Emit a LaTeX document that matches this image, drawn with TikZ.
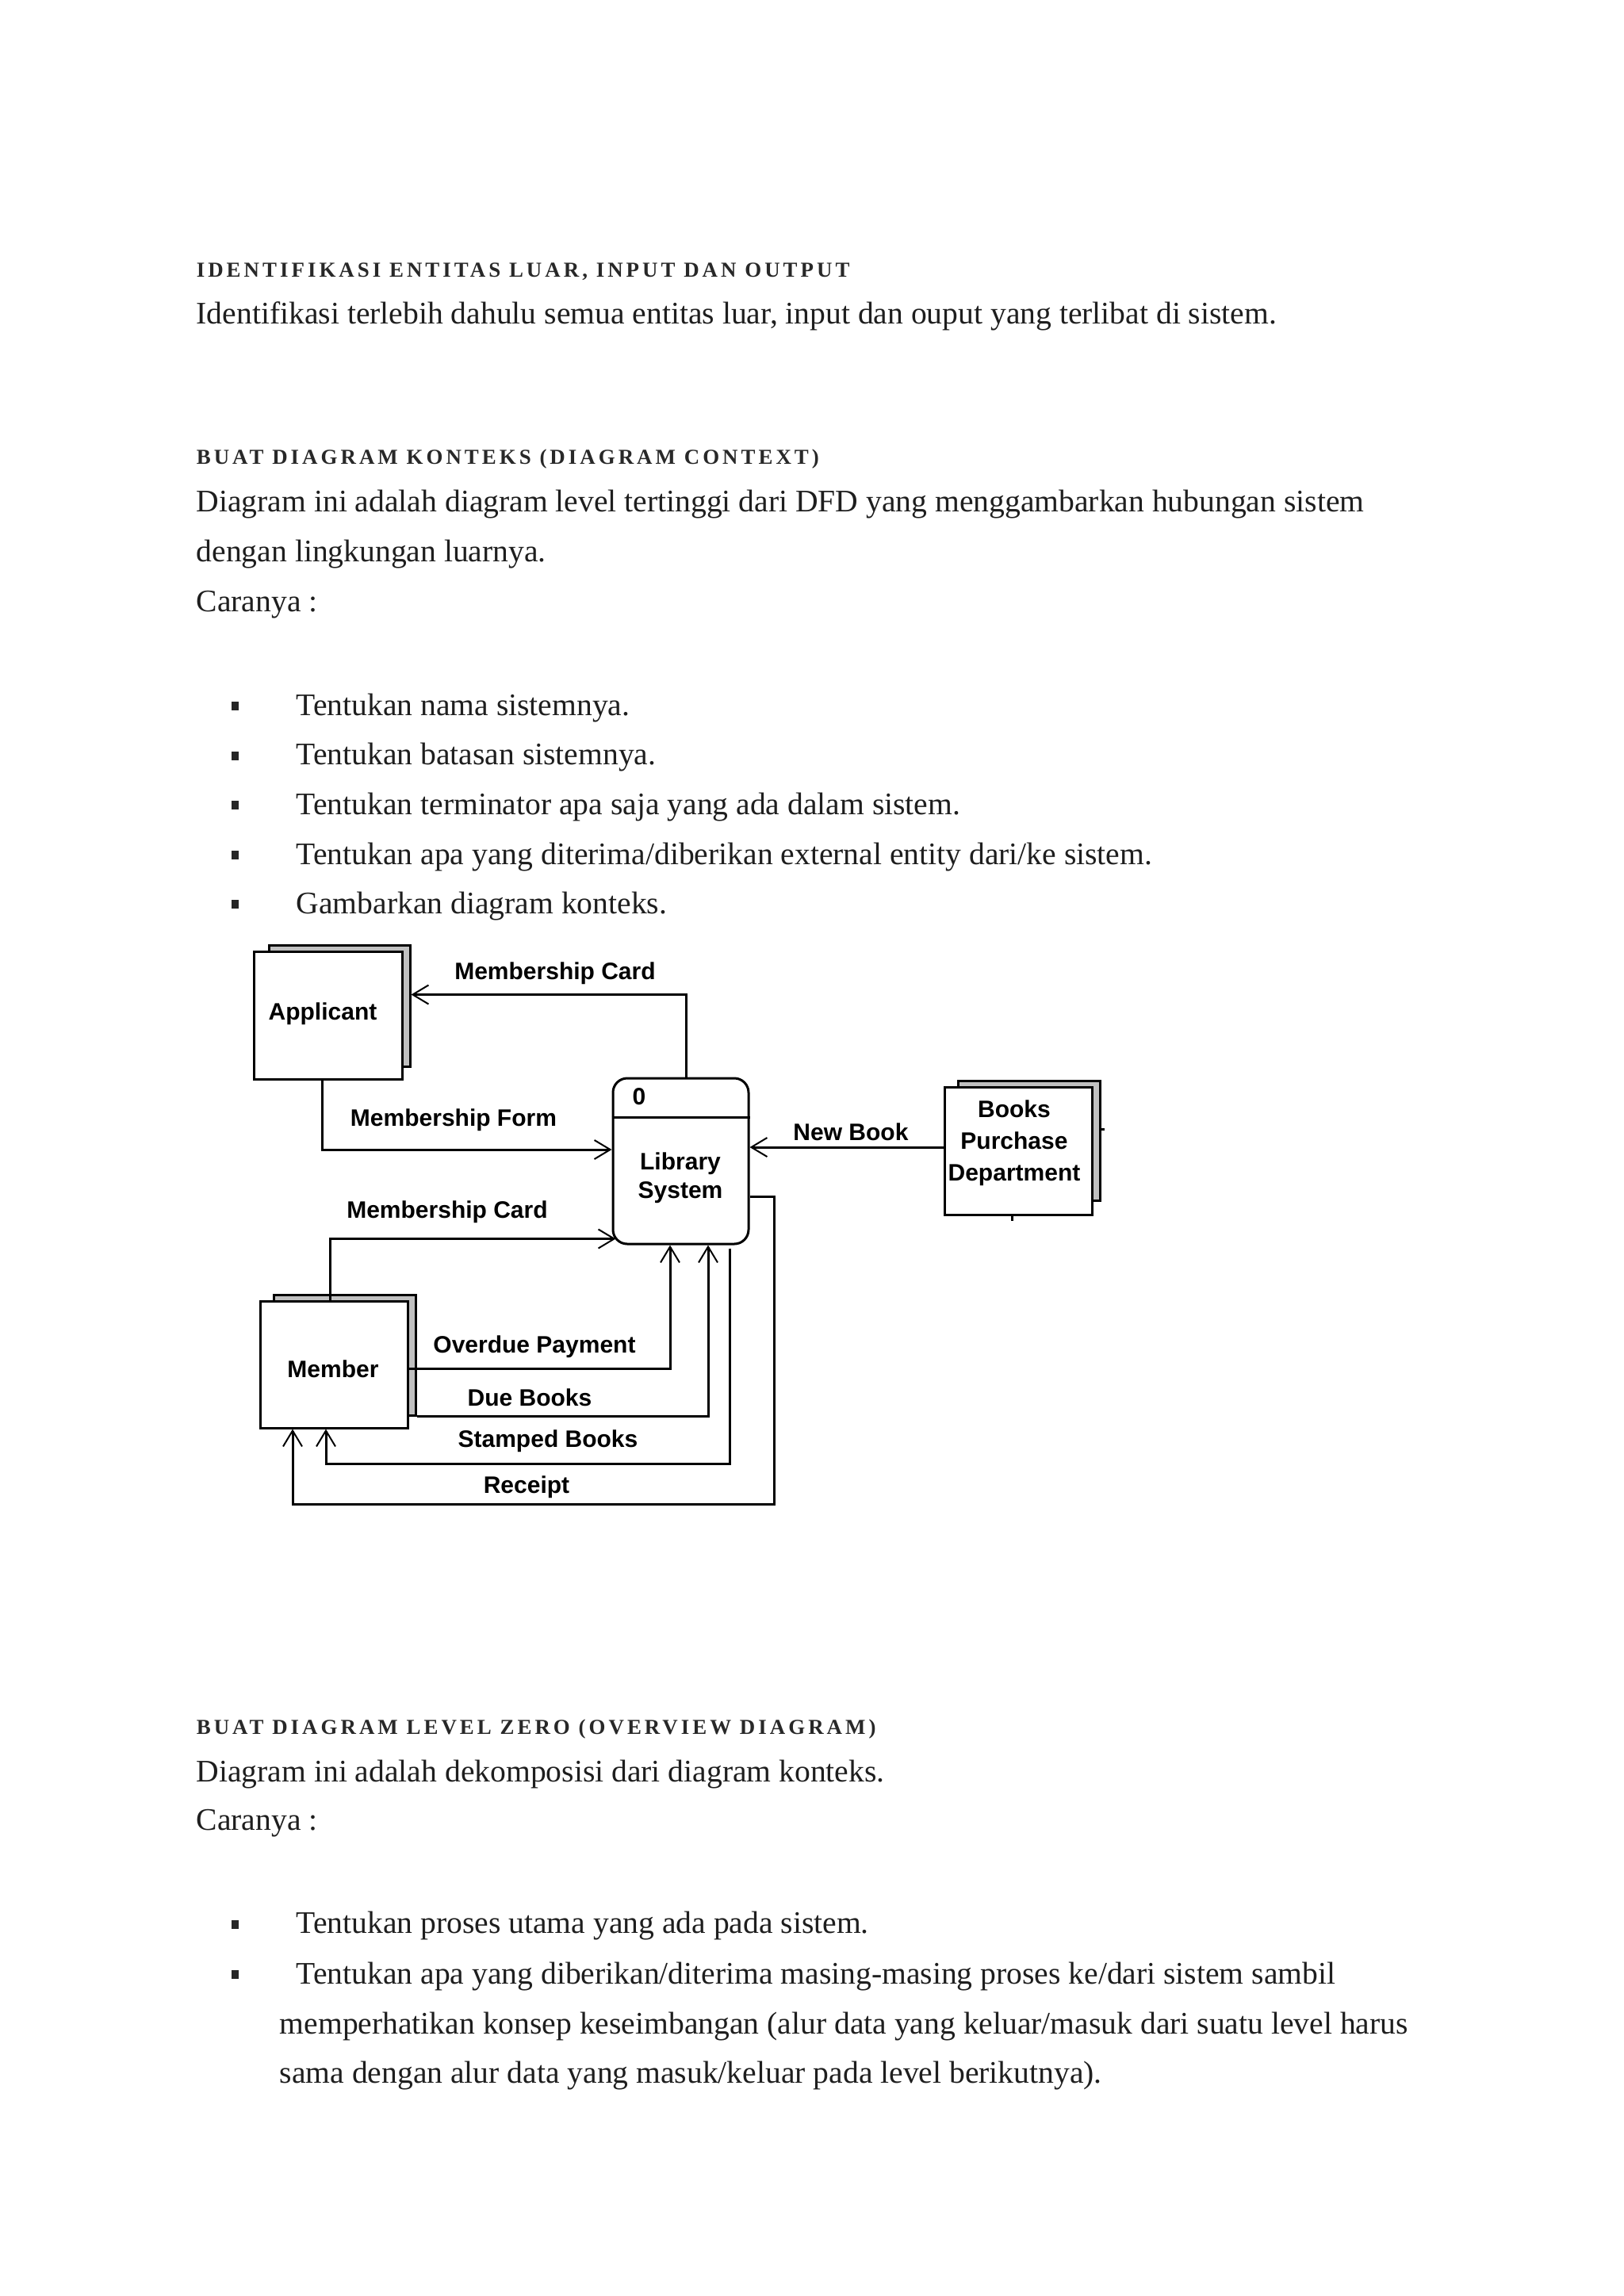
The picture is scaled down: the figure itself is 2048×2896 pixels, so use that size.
\documentclass[tikz,border=0pt]{standalone}
\usepackage{fontspec}
\setmainfont{Liberation Serif}
\newfontfamily\headfont{Liberation Serif}[LetterSpace=15]
\newfontfamily\dfdfont{Liberation Sans}
\usetikzlibrary{arrows.meta}
\definecolor{shadowgray}{RGB}{192,192,192}
\definecolor{headgray}{RGB}{40,40,40}
\definecolor{textgray}{RGB}{30,30,30}
\begin{document}
\begin{tikzpicture}[x=0.25pt,y=-0.25pt,
  body/.style={anchor=base west, inner sep=0pt, font=\fontsize{9.9pt}{15.75pt}\selectfont, text=textgray},
  head/.style={anchor=base west, inner sep=0pt, font=\headfont\bfseries\fontsize{6.72pt}{8pt}\selectfont, text=headgray},
  bulletsq/.style={fill=black!85, minimum width=2.25pt, minimum height=2.75pt, inner sep=0pt},
  ent/.style={draw, line width=0.75pt, fill=white, inner sep=0pt},
  entshadow/.style={draw, line width=0.75pt, fill=shadowgray, inner sep=0pt},
  proc/.style={draw, line width=0.75pt, rounded corners=4.5pt, fill=white, inner sep=0pt, minimum width=42.75pt, minimum height=52.25pt},
  dfdtext/.style={inner sep=0pt, font=\dfdfont\bfseries\fontsize{7.5pt}{9pt}\selectfont, align=center},
  enttext/.style={inner sep=0pt, font=\dfdfont\bfseries\fontsize{7.5pt}{10pt}\selectfont, align=center},
  flowlabel/.style={anchor=base, inner sep=0pt, font=\dfdfont\bfseries\fontsize{7.5pt}{9pt}\selectfont},
  flow/.style={line width=0.75pt, -{Straight Barb[length=5pt,width=6pt,line width=0.5pt]}},
  plain/.style={line width=0.75pt}
]
\fill[white] (0,0) rectangle (2048,2896);
\useasboundingbox (0,0) rectangle (2048,2896);

% ---------- text above diagram ----------
\node[head] (h1) at (247,349) {IDENTIFIKASI ENTITAS LUAR, INPUT DAN OUTPUT};
\node[body] (t1) at (247,408) {Identifikasi terlebih dahulu semua entitas luar, input dan ouput yang terlibat di sistem.};
\node[head] (h2) at (247,585) {BUAT DIAGRAM KONTEKS (DIAGRAM CONTEXT)};
\node[body] (t2) at (247,645) {Diagram ini adalah diagram level tertinggi dari DFD yang menggambarkan hubungan sistem};
\node[body] (t3) at (247,708) {dengan lingkungan luarnya.};
\node[body] (t4) at (247,771) {Caranya :};

\node[bulletsq] (b1) at (296,890) {};
\node[bulletsq] (b2) at (296,953) {};
\node[bulletsq] (b3) at (296,1015) {};
\node[bulletsq] (b4) at (296,1078) {};
\node[bulletsq] (b5) at (296,1140) {};
\node[body] (l1) at (373,902) {Tentukan nama sistemnya.};
\node[body] (l2) at (373,964) {Tentukan batasan sistemnya.};
\node[body] (l3) at (373,1027) {Tentukan terminator apa saja yang ada dalam sistem.};
\node[body] (l4) at (373,1090) {Tentukan apa yang diterima/diberikan external entity dari/ke sistem.};
\node[body] (l5) at (373,1152) {Gambarkan diagram konteks.};

% ---------- diagram ----------
\node[entshadow, minimum width=44.5pt, minimum height=38.25pt] (appsh) at (428,1268.5) {};
\node[ent, minimum width=46.75pt, minimum height=40.25pt] (app) at (413.5,1280.5) {};
\node[enttext, anchor=base] (apptext) at (407,1286) {Applicant};

\node[entshadow, minimum width=44.75pt, minimum height=37.75pt] (booksh) at (1297.5,1438.5) {};
\node[ent, minimum width=46.5pt, minimum height=40.25pt] (books) at (1284,1451.5) {};
\node[enttext, anchor=north] (bookstext) at (1279,1387) {Books\\Purchase\\Department};

\node[entshadow, minimum width=44.75pt, minimum height=38pt] (memsh) at (434.5,1709) {};
\node[ent, minimum width=46.5pt, minimum height=40pt] (mem) at (421,1721) {};
\node[enttext, anchor=base] (memtext) at (420,1737) {Member};

\node[proc] (lib) at (858.5,1464.5) {};
\coordinate (divy) at (0,1409);
\draw[plain] (lib.west |- divy) -- (lib.east |- divy);
\node[dfdtext, anchor=base] (libid) at (806,1393) {0};
\node[dfdtext] (libname) at (858,1486) {Library\\System};

% ticks on Books Purchase Department
\draw[plain] ([xshift=-2pt]books.south) -- ++(0,6);
\draw[plain] ([yshift=3.6pt]booksh.east) -- ++(4,0);

% flows
\draw[flow] ([xshift=1.625pt]lib.north) |- ([yshift=3.5pt]appsh.east);
\draw[flow] ([xshift=-1.875pt]app.south) |- ([yshift=3.625pt]lib.west);
\coordinate (nb) at ([yshift=1.125pt]books.west);
\draw[flow] (nb) -- (nb -| lib.east);
\draw[flow] ([xshift=-1.25pt]mem.north) |- ([xshift=1.25pt,yshift=2pt]lib.south west);
\draw[flow] ([yshift=-1.25pt]mem.east) -| ([xshift=-3.375pt]lib.south);
\draw[flow] (memsh.south east) -| ([xshift=8.625pt]lib.south);
\draw[flow] ([xshift=15.375pt,yshift=-1pt]lib.south) -- ++(0,272) -| ([xshift=-2.5pt]mem.south);
\draw[flow] ([yshift=-11.125pt]lib.east) -- ++(31,0) -- ++(0,388) -| ([xshift=-13pt]mem.south);

\node[flowlabel] (lMC1) at (700,1235) {Membership Card};
\node[flowlabel] (lMF) at (572,1420) {Membership Form};
\node[flowlabel] (lNB) at (1073,1438) {New Book};
\node[flowlabel] (lMC2) at (564,1536) {Membership Card};
\node[flowlabel] (lOP) at (674,1706) {Overdue Payment};
\node[flowlabel] (lDB) at (668,1773) {Due Books};
\node[flowlabel] (lSB) at (691,1825) {Stamped Books};
\node[flowlabel] (lR) at (664,1883) {Receipt};

% ---------- text below diagram ----------
\node[head] (h3) at (247,2187) {BUAT DIAGRAM LEVEL ZERO (OVERVIEW DIAGRAM)};
\node[body] (t5) at (247,2247) {Diagram ini adalah dekomposisi dari diagram konteks.};
\node[body] (t6) at (247,2308) {Caranya :};
\node[bulletsq] (b6) at (296,2427) {};
\node[bulletsq] (b7) at (296,2490) {};
\node[body] (m1) at (373,2438) {Tentukan proses utama yang ada pada sistem.};
\node[body] (m2) at (373,2502) {Tentukan apa yang diberikan/diterima masing-masing proses ke/dari sistem sambil};
\node[body] (m3) at (352,2565) {memperhatikan konsep keseimbangan (alur data yang keluar/masuk dari suatu level harus};
\node[body] (m4) at (352,2627) {sama dengan alur data yang masuk/keluar pada level berikutnya).};
\end{tikzpicture}
\end{document}
